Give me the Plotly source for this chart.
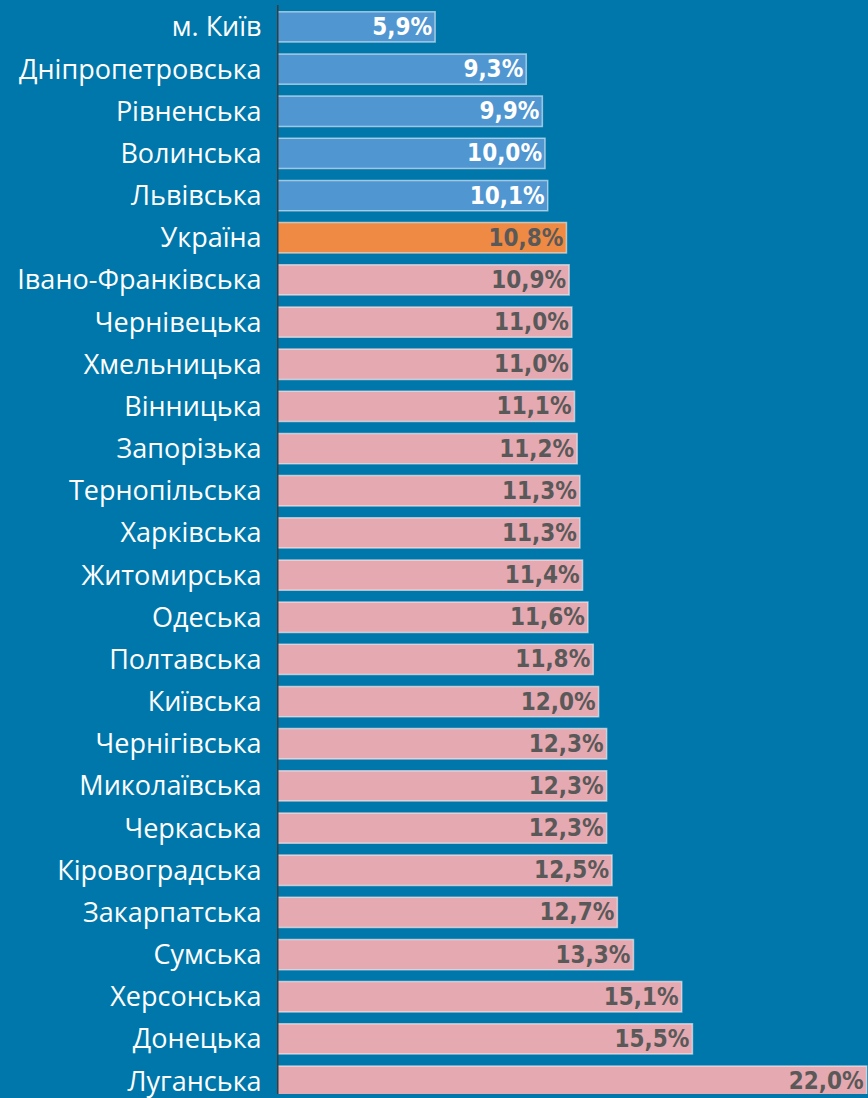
import plotly.graph_objects as go

regions = ["м. Київ", "Дніпропетровська", "Рівненська", "Волинська", "Львівська", "Україна",
           "Івано-Франківська", "Чернівецька", "Хмельницька", "Вінницька", "Запорізька",
           "Тернопільська", "Харківська", "Житомирська", "Одеська", "Полтавська", "Київська",
           "Чернігівська", "Миколаївська", "Черкаська", "Кіровоградська", "Закарпатська",
           "Сумська", "Херсонська", "Донецька", "Луганська"]
values = [5.9, 9.3, 9.9, 10.0, 10.1, 10.8, 10.9, 11.0, 11.0, 11.1, 11.2, 11.3, 11.3, 11.4,
          11.6, 11.8, 12.0, 12.3, 12.3, 12.3, 12.5, 12.7, 13.3, 15.1, 15.5, 22.0]
groups = ["below"] * 5 + ["ukraine"] + ["above"] * 20

fill = {"below": "#5096D1", "ukraine": "#EE8A43", "above": "#E5A9B1"}
txtc = {"below": "#FFFFFF", "ukraine": "#595959", "above": "#595959"}

labels = [f"{v:.1f}".replace(".", ",") + "%" for v in values]
ypos = list(range(len(regions)))

fig = go.Figure(go.Bar(
    x=values, y=ypos, orientation="h",
    marker=dict(color=[fill[g] for g in groups],
                line=dict(color="rgba(255,255,255,0.55)", width=1.5)),
    width=0.72,
    text=labels, textposition="inside", insidetextanchor="end",
    textfont=dict(family="DejaVu Sans Condensed", size=24,
                  color=[txtc[g] for g in groups], weight="bold"),
    cliponaxis=False,
))

fig.add_shape(type="line", xref="x", yref="y", x0=0, x1=0, y0=-0.52, y1=25.4,
              line=dict(color="#3b3b3b", width=3), layer="above")

fig.update_layout(
    width=868, height=1098,
    margin=dict(l=277, r=0, t=0, b=0),
    paper_bgcolor="#0077AA", plot_bgcolor="#0077AA",
    showlegend=False,
    uniformtext=dict(minsize=24, mode="show"),
    xaxis=dict(range=[0, 22.05], visible=False, fixedrange=True),
    yaxis=dict(range=[25.307, -0.638], tickvals=ypos, ticktext=regions,
               tickfont=dict(family="Open Sans", size=27, color="white"),
               ticks="outside", ticklen=9, tickcolor="rgba(0,0,0,0)",
               ticklabeloverflow="allow",
               showgrid=False, zeroline=False, showline=False),
)

fig.write_html("out.html", config={"displayModeBar": False},
               post_script="document.body.style.margin='0';")
